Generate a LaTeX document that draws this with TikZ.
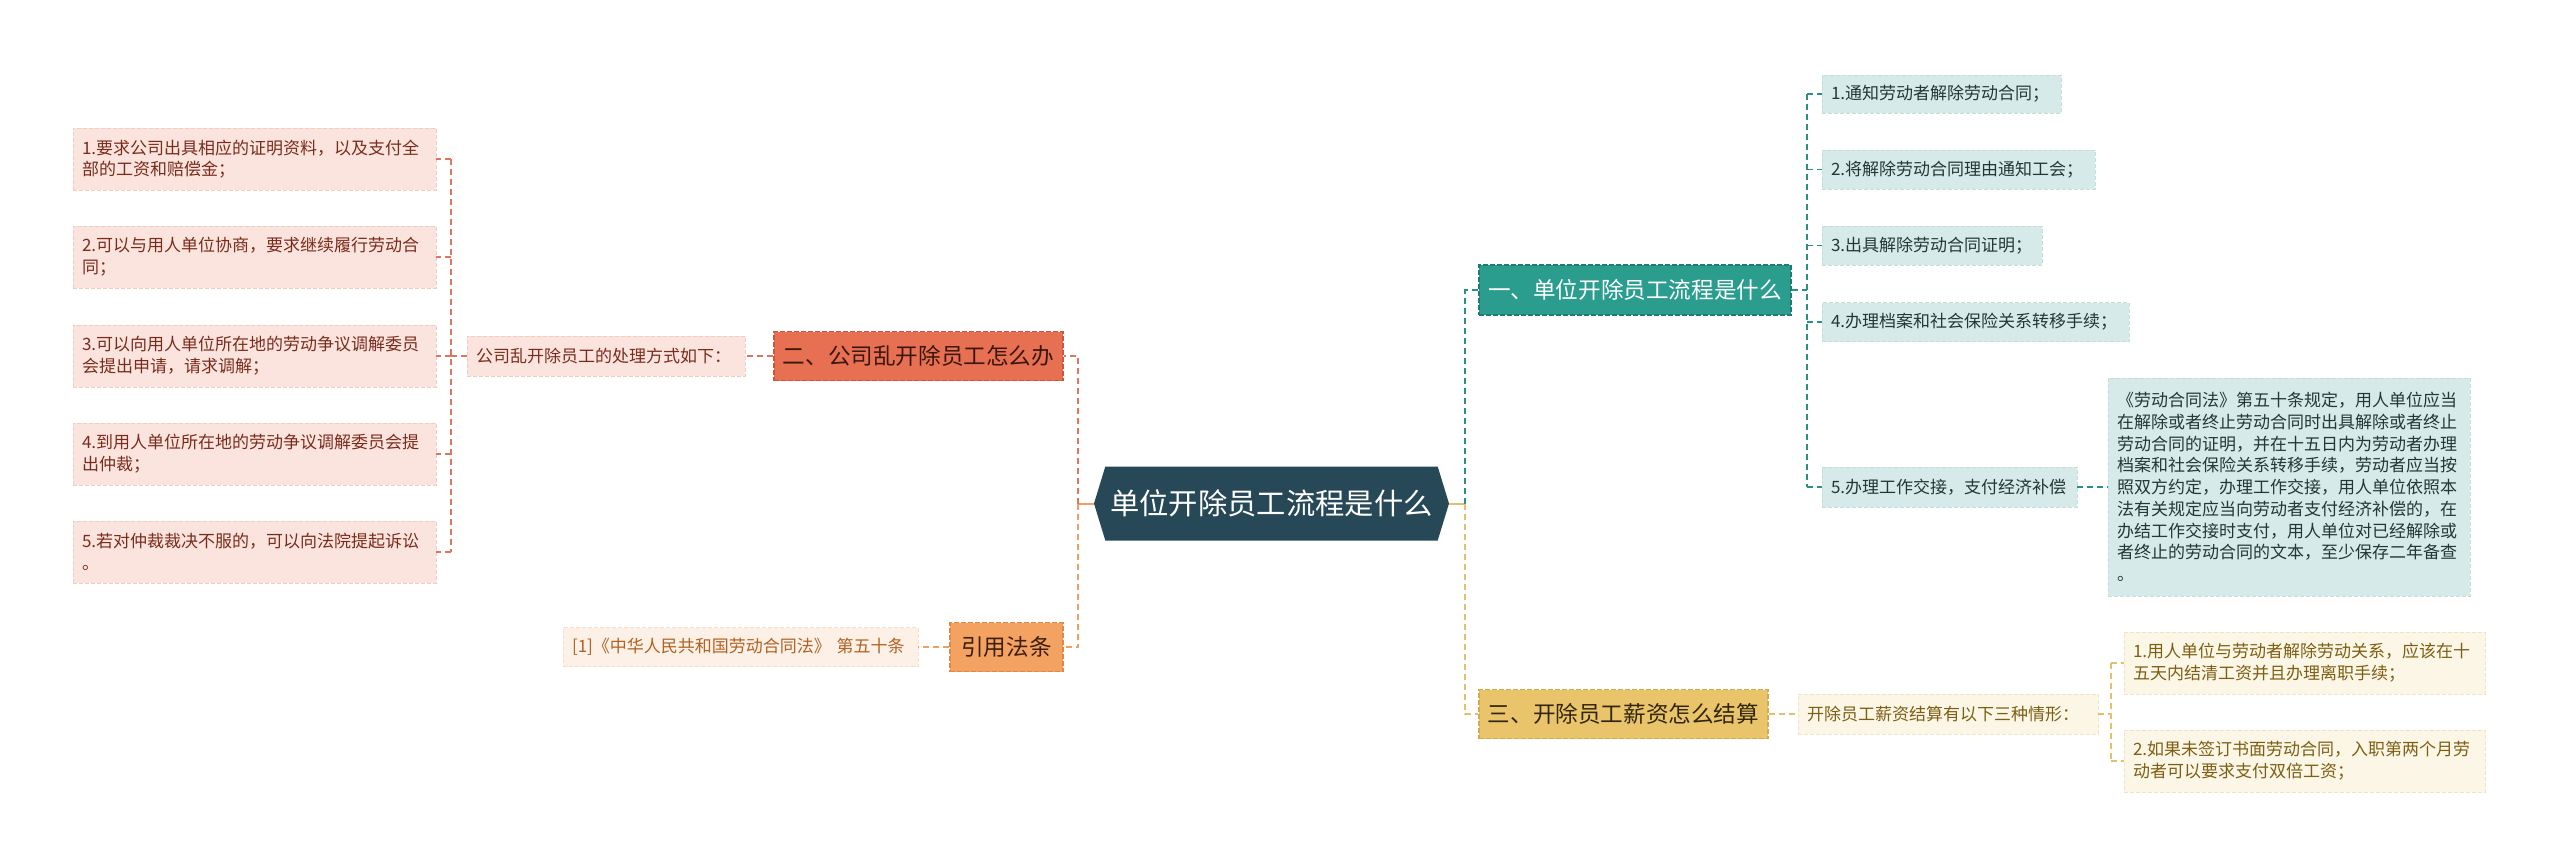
\documentclass[tikz,border=0pt]{standalone}
\usepackage{fontspec}
\setmainfont{Noto Sans CJK SC}
\usetikzlibrary{shapes.symbols}
\definecolor{rootc}{RGB}{39,72,87}
\definecolor{coralF}{RGB}{232,112,82}
\definecolor{coralD}{RGB}{205,85,58}
\definecolor{coralT}{RGB}{58,22,12}
\definecolor{orF}{RGB}{244,162,97}
\definecolor{orD}{RGB}{225,135,70}
\definecolor{orT}{RGB}{60,30,10}
\definecolor{tealF}{RGB}{42,157,143}
\definecolor{tealD}{RGB}{30,125,112}
\definecolor{goldF}{RGB}{233,196,106}
\definecolor{goldD}{RGB}{210,170,80}
\definecolor{goldT}{RGB}{50,38,10}
\definecolor{pinkF}{RGB}{251,228,222}
\definecolor{pinkD}{RGB}{240,205,195}
\definecolor{pinkT}{RGB}{122,44,28}
\definecolor{peachF}{RGB}{253,240,230}
\definecolor{peachD}{RGB}{245,222,205}
\definecolor{peachT}{RGB}{176,98,34}
\definecolor{tlF}{RGB}{214,235,233}
\definecolor{tlD}{RGB}{195,222,219}
\definecolor{tlT}{RGB}{35,55,52}
\definecolor{ylF}{RGB}{252,246,230}
\definecolor{ylD}{RGB}{240,228,200}
\definecolor{ylT}{RGB}{125,95,20}
\definecolor{coralC}{RGB}{222,118,95}
\definecolor{orC}{RGB}{240,160,100}
\definecolor{tealC}{RGB}{42,145,130}
\definecolor{goldC}{RGB}{228,192,110}
\begin{document}
\begin{tikzpicture}[x=1pt,y=-1pt,
  leafbase/.style={inner xsep=9pt, inner ysep=0pt, align=left,
    font=\fontsize{17}{21.7}\selectfont, dashed, dash pattern=on 4pt off 2pt, line width=0.8pt},
  pinkleaf/.style={leafbase, fill=pinkF, draw=pinkD, text=pinkT},
  peachleaf/.style={leafbase, fill=peachF, draw=peachD, text=peachT},
  tealleaf/.style={leafbase, fill=tlF, draw=tlD, text=tlT},
  goldleaf/.style={leafbase, fill=ylF, draw=ylD, text=ylT},
  mainnode/.style={inner sep=0pt, font=\fontsize{22.6}{26}\selectfont, dashed,
    dash pattern=on 5pt off 2pt, line width=1.2pt},
  rootnode/.style={signal, signal to=west and east, signal pointer angle=146,
    fill=rootc, text=white, inner sep=0pt, minimum width=355pt, minimum height=74pt,
    font=\fontsize{29.3}{34}\selectfont},
  connbase/.style={dash pattern=on 6pt off 4pt, line width=1.5pt},
  mainconn/.style={dash pattern=on 6pt off 4pt, line width=2pt},
]
\useasboundingbox[fill=white] (0,0) rectangle (2560,865);

% ---- root
\node[rootnode] (root) at (1271.5,503.5) {单位开除员工流程是什么};

% ---- left side
\node[mainnode, fill=coralF, draw=coralD, text=coralT, minimum width=289pt, minimum height=49pt] (b2) at (918.5,356) {二、公司乱开除员工怎么办};
\node[mainnode, fill=orF, draw=orD, text=orT, minimum width=113pt, minimum height=49pt] (b4) at (1006.5,647) {引用法条};
\node[pinkleaf, text width=260pt, minimum height=40pt] (lmid) at (606,356) {公司乱开除员工的处理方式如下：};
\node[peachleaf, text width=337pt, minimum height=39pt] (ref) at (740.5,647) {[1]《中华人民共和国劳动合同法》 第五十条};

\node[pinkleaf, text width=345pt, minimum height=62pt] (l1) at (254.5,159) {1.要求公司出具相应的证明资料，以及支付全\\部的工资和赔偿金；};
\node[pinkleaf, text width=345pt, minimum height=62pt] (l2) at (254.5,257) {2.可以与用人单位协商，要求继续履行劳动合\\同；};
\node[pinkleaf, text width=345pt, minimum height=62pt] (l3) at (254.5,356) {3.可以向用人单位所在地的劳动争议调解委员\\会提出申请，请求调解；};
\node[pinkleaf, text width=345pt, minimum height=62pt] (l4) at (254.5,454) {4.到用人单位所在地的劳动争议调解委员会提\\出仲裁；};
\node[pinkleaf, text width=345pt, minimum height=62pt] (l5) at (254.5,552) {5.若对仲裁裁决不服的，可以向法院提起诉讼\\。};

% ---- right side
\node[mainnode, fill=tealF, draw=tealD, text=white, minimum width=312pt, minimum height=50pt] (b1) at (1635,290) {一、单位开除员工流程是什么};
\node[mainnode, fill=goldF, draw=goldD, text=goldT, minimum width=289pt, minimum height=49pt] (b3) at (1623.5,714) {三、开除员工薪资怎么结算};

\node[tealleaf, text width=221pt, minimum height=38pt] (t1) at (1941.5,94) {1.通知劳动者解除劳动合同；};
\node[tealleaf, text width=255pt, minimum height=39pt] (t2) at (1958.5,169.5) {2.将解除劳动合同理由通知工会；};
\node[tealleaf, text width=202pt, minimum height=39pt] (t3) at (1932,245.5) {3.出具解除劳动合同证明；};
\node[tealleaf, text width=289pt, minimum height=39pt] (t4) at (1975.5,322) {4.办理档案和社会保险关系转移手续；};
\node[tealleaf, text width=237pt, minimum height=40pt] (t5) at (1949.5,487) {5.办理工作交接，支付经济补偿};
\node[tealleaf, text width=344pt, minimum height=218pt] (note) at (2289,487) {《劳动合同法》第五十条规定，用人单位应当\\在解除或者终止劳动合同时出具解除或者终止\\劳动合同的证明，并在十五日内为劳动者办理\\档案和社会保险关系转移手续，劳动者应当按\\照双方约定，办理工作交接，用人单位依照本\\法有关规定应当向劳动者支付经济补偿的，在\\办结工作交接时支付，用人单位对已经解除或\\者终止的劳动合同的文本，至少保存二年备查\\。};

\node[goldleaf, text width=282pt, minimum height=40pt] (ymid) at (1948,714) {开除员工薪资结算有以下三种情形：};
\node[goldleaf, text width=343pt, minimum height=62pt] (y1) at (2304.5,663) {1.用人单位与劳动者解除劳动关系，应该在十\\五天内结清工资并且办理离职手续；};
\node[goldleaf, text width=343pt, minimum height=62pt] (y2) at (2304.5,761) {2.如果未签订书面劳动合同，入职第两个月劳\\动者可以要求支付双倍工资；};

% ---- bus coordinates
\coordinate (busL1) at (451,0);
\coordinate (busL) at (1078,0);
\coordinate (busR) at (1465,0);
\coordinate (busT) at (1807,0);
\coordinate (busY) at (2111,0);

% ---- connectors left
\draw[orC, line width=2pt] (root.west) -- (root.west -| busL);
\draw[mainconn, coralC] (root.west -| busL) |- (b2.east);
\draw[mainconn, orC] (root.west -| busL) |- (b4.east);
\draw[connbase, coralC] (b2.west) -- (lmid.east);
\draw[connbase, orC] (b4.west) -- (ref.east);
\draw[connbase, coralC] (lmid.west) -- (lmid.west -| busL1);
\draw[connbase, coralC] (busL1 |- l1.east) -- (busL1 |- l5.east);
\foreach \n in {l1,l2,l3,l4,l5} \draw[connbase, coralC] (busL1 |- \n.east) -- (\n.east);

% ---- connectors right
\draw[goldC, line width=2pt] (root.east) -- (root.east -| busR);
\draw[mainconn, tealC] (root.east -| busR) |- (b1.west);
\draw[mainconn, goldC] (root.east -| busR) |- (b3.west);
\draw[connbase, tealC] (b1.east) -- (b1.east -| busT);
\draw[connbase, tealC] (busT |- t1.west) -- (busT |- t5.west);
\foreach \n in {t1,t2,t3,t4,t5} \draw[connbase, tealC] (busT |- \n.west) -- (\n.west);
\draw[connbase, tealC] (t5.east) -- (note.west);
\draw[connbase, goldC] (b3.east) -- (ymid.west);
\draw[connbase, goldC] (ymid.east) -- (ymid.east -| busY);
\draw[connbase, goldC] (busY |- y1.west) -- (busY |- y2.west);
\foreach \n in {y1,y2} \draw[connbase, goldC] (busY |- \n.west) -- (\n.west);
\end{tikzpicture}
\end{document}
